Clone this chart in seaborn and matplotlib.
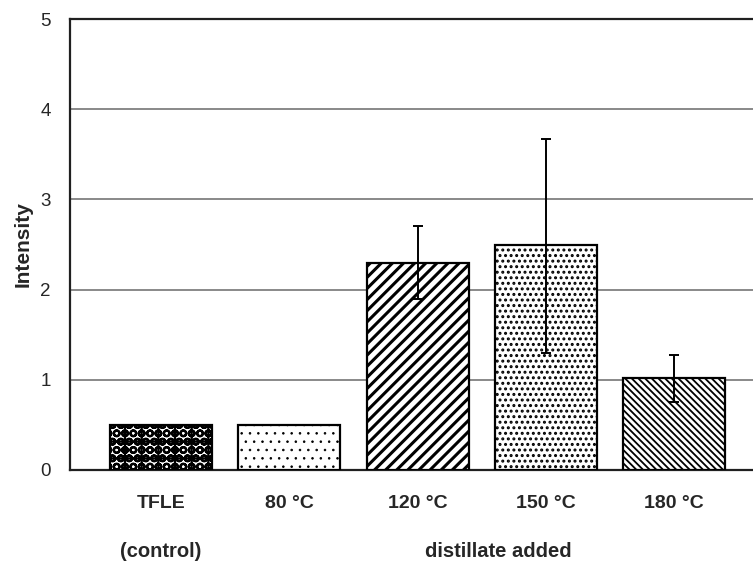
import matplotlib
matplotlib.use("Agg")
import matplotlib.pyplot as plt
import seaborn as sns
import pandas as pd
import numpy as np

categories = ["TFLE", "80 °C", "120 °C", "150 °C", "180 °C"]
intensity = [0.50, 0.50, 2.30, 2.50, 1.02]
err_low = [np.nan, np.nan, 1.90, 1.30, 0.75]
err_high = [np.nan, np.nan, 2.70, 3.67, 1.27]
hatches = ["O+O", "..", "///", "...", "\\\\\\\\\\"]
hatch_lw = [1.6, 0.6, 2.2, 1.4, 1.3]
group_labels = ["(control)", "distillate added"]

sns.set_theme(style="white")
plt.rcParams["font.family"] = ["Liberation Sans", "DejaVu Sans"]
plt.rcParams["hatch.linewidth"] = 1.6

df = pd.DataFrame({"cat": categories, "val": intensity})

fig = plt.figure(figsize=(7.53, 5.68), dpi=100)
ax = fig.add_axes([70/753, 1-470/568, 1-70/753, (470-19)/568])

sns.barplot(data=df, x="cat", y="val", ax=ax, color="white",
            edgecolor="black", linewidth=1.6, width=0.795, errorbar=None, zorder=3)

for p, h, lw in zip(ax.patches, hatches, hatch_lw):
    p.set_hatch(h)
    p.set_facecolor("white")
    p.set_edgecolor("black")
    p.set_zorder(3)
    if hasattr(p, "set_hatch_linewidth"):
        p.set_hatch_linewidth(lw)

x = np.arange(len(categories))
vals = np.array(intensity)
lo = np.array(err_low)
hi = np.array(err_high)
mask = ~np.isnan(lo)
ax.errorbar(x[mask], vals[mask], yerr=[vals[mask]-lo[mask], hi[mask]-vals[mask]],
            fmt="none", ecolor="black", elinewidth=1.4, capsize=3.6, capthick=1.4, zorder=4)

ax.set_ylim(0, 5)
ax.set_xlim(-0.71, 4.616)
ax.set_yticks([0, 1, 2, 3, 4, 5])
ax.yaxis.grid(True, color="#808080", linewidth=1.3, zorder=0)
ax.set_axisbelow(True)
for s in ["left", "top", "bottom"]:
    ax.spines[s].set_color("#202020")
    ax.spines[s].set_linewidth(1.6)
ax.spines["right"].set_visible(False)
ax.tick_params(axis="both", length=0)
ax.tick_params(axis="y", labelsize=13.5, pad=14)
ax.tick_params(axis="x", labelsize=14, pad=18)
for t in ax.get_xticklabels():
    t.set_fontweight("bold")
ax.set_xlabel("")
ax.set_ylabel("Intensity", fontsize=15, fontweight="bold", labelpad=5)

ax.text(0, -0.905, group_labels[0], transform=ax.transData, ha="center", va="center",
        fontsize=14.5, fontweight="bold", clip_on=False)
ax.text(2.63, -0.905, group_labels[1], transform=ax.transData, ha="center", va="center",
        fontsize=14.5, fontweight="bold", clip_on=False)

fig.savefig("out.png", dpi=100)
